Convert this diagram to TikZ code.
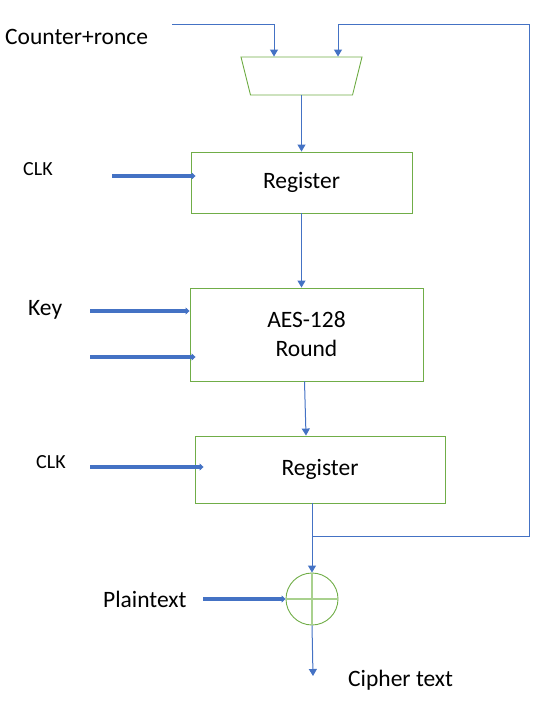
\documentclass[tikz,border=0pt]{standalone}
\usepackage{fontspec}
\setmainfont{Carlito}
\usetikzlibrary{positioning,arrows.meta,shapes.geometric}

\definecolor{boxgreen}{HTML}{70AD47}
\definecolor{plusgreen}{HTML}{A9D18E}
\definecolor{wireblue}{HTML}{4472C4}

\begin{document}
\begin{tikzpicture}[x=1pt, y=-1pt,
        wire/.style={draw=wireblue, line width=1pt},
        tip/.style={-{Triangle[width=8pt,length=7pt]}},
        fat/.style={draw=wireblue, line width=3.5pt, -{Triangle[width=7pt,length=4pt]}},
        block/.style={draw=boxgreen, line width=0.9pt, align=center, inner sep=0pt, font=\fontsize{23.5pt}{29pt}\selectfont},
        lbl/.style={anchor=base west, inner sep=0pt, font=\fontsize{23.5pt}{28pt}\selectfont},
        clk/.style={anchor=base west, inner sep=0pt, font=\fontsize{20pt}{24pt}\selectfont}]
        \useasboundingbox (0,0) rectangle (559,711);

        \node[block, shape=trapezium, shape border rotate=180, trapezium stretches body=true,
              inner xsep=2pt, inner ysep=19pt, trapezium angle=76, minimum width=121pt] (mux) at (301.5,76) {};
        \node[block, minimum width=221pt, minimum height=61pt] (reg1) at (301.5,182.5) {Register};
        \node[block, minimum width=233pt, minimum height=93pt] (aes) at (306.5,334.5) {AES-128\\Round};
        \node[block, minimum width=250pt, minimum height=67pt] (reg2) at (320,469.5) {Register};
        \node[draw=boxgreen, line width=0.9pt, circle, minimum size=52pt, inner sep=0pt] (xor) at (312,599) {};
        \draw[plusgreen, line width=1.2pt] (xor.north) -- (xor.south) (xor.west) -- (xor.east);

        % labels
        \node[lbl] (ctr) at (5,45) {Counter+ronce};
        \node[clk] (clk1) at (23,176) {CLK};
        \node[lbl] (key) at (28,315) {Key};
        \node[clk] (clk2) at (36,468) {CLK};
        \node[lbl] (pt) at (103,607) {Plaintext};
        \node[lbl] (ct) at (348,686) {Cipher text};

        % free ends
        \coordinate (cin) at (172,25);
        \coordinate (fbtop) at (529,25);
        \coordinate (tap) at (313,536);
        \coordinate (out) at (313,676);
        \coordinate (clk1in) at (112,176);
        \coordinate (key1in) at (90,311);
        \coordinate (key2in) at (90,357);
        \coordinate (clk2in) at (90,467);
        \coordinate (ptin) at (203,599);

        \draw[wire, tip] (cin) -| ([xshift=-27.5pt]mux.north);
        \draw[wire, tip] (tap) -| (fbtop) -| ([xshift=36.5pt]mux.north);
        \draw[wire, tip] (mux.south) -- (reg1.north);
        \draw[wire, tip] (reg1.south) -- (reg1.south |- aes.north);
        \draw[wire, tip] ([xshift=-2pt]aes.south) -- ([xshift=-14pt]reg2.north);
        \draw[wire, tip] (xor.north |- reg2.south) -- (xor.north);
        \draw[wire, tip] (xor.south) -- (out);

        \draw[fat] (clk1in) -- ([xshift=5pt]reg1.west |- clk1in);
        \draw[fat] (key1in) -- (aes.west |- key1in);
        \draw[fat] (key2in) -- ([xshift=6pt]aes.west |- key2in);
        \draw[fat] (clk2in) -- ([xshift=9pt]reg2.west |- clk2in);
        \draw[fat] (ptin) -- (xor.west);
    \end{tikzpicture}
\end{document}
